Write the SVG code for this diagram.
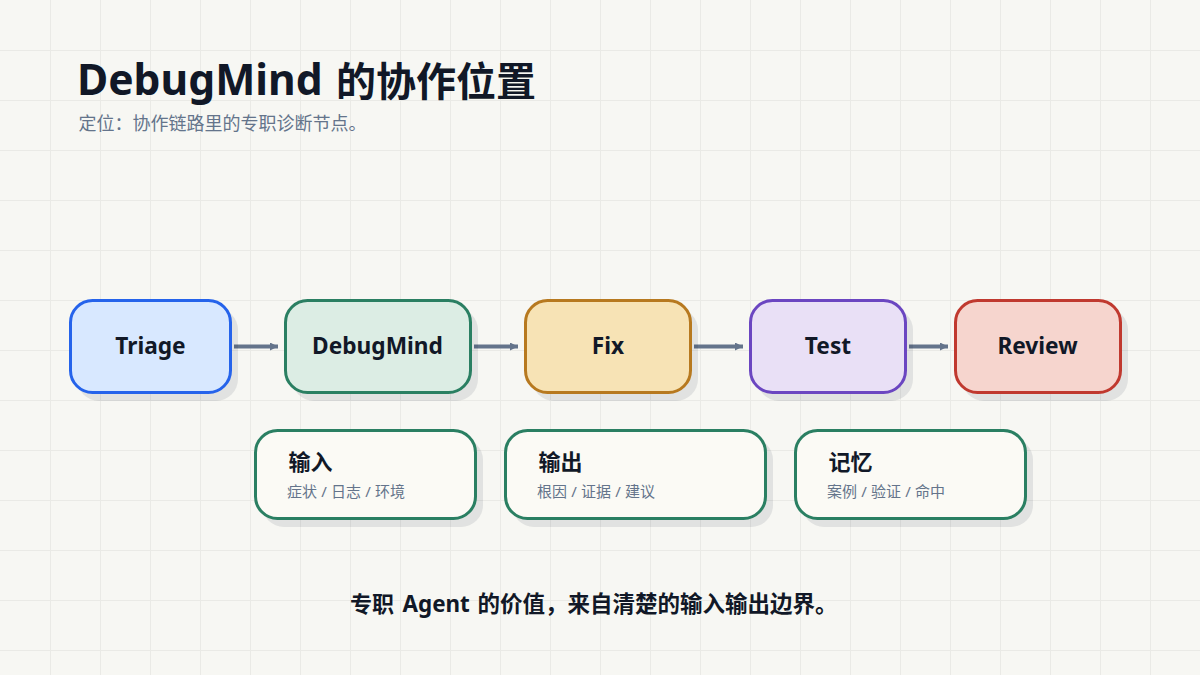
<svg xmlns="http://www.w3.org/2000/svg" width="1200" height="675" viewBox="0 0 1200 675">
<style>
text{font-family:"Noto Sans","Noto Sans CJK SC",sans-serif}
.n{stroke-width:3}
.s{fill:#0f172a;fill-opacity:.09}
.l{font-size:22.7px;font-weight:700;fill:#111827;text-anchor:middle}
.h{font-size:22px;font-weight:700;fill:#111827}
.d{font-size:15px;letter-spacing:.12px;fill:#64748b}
.c{fill:#fbfaf5;stroke:#2a7f62}
.a{stroke:#64748b;stroke-width:4;fill:none;marker-end:url(#ah)}
.g{stroke:#eaeae6;stroke-width:1}
</style>
<defs>
<marker id="ah" markerUnits="userSpaceOnUse" markerWidth="8" markerHeight="8" refX="8" refY="4" orient="auto"><path d="M0 0L8 4L0 8z" fill="#64748b"/></marker>
</defs>
<rect width="1200" height="675" fill="#f7f7f3"/>
<g id="grid-lines" class="g"><path d="M50.5 0V675M100.5 0V675M150.5 0V675M200.5 0V675M250.5 0V675M300.5 0V675M350.5 0V675M400.5 0V675M450.5 0V675M500.5 0V675M550.5 0V675M600.5 0V675M650.5 0V675M700.5 0V675M750.5 0V675M800.5 0V675M850.5 0V675M900.5 0V675M950.5 0V675M1000.5 0V675M1050.5 0V675M1100.5 0V675M1150.5 0V675M0 50.5H1200M0 100.5H1200M0 150.5H1200M0 200.5H1200M0 250.5H1200M0 300.5H1200M0 350.5H1200M0 400.5H1200M0 450.5H1200M0 500.5H1200M0 550.5H1200M0 600.5H1200M0 650.5H1200"/></g>
<g id="title"><text x="77" y="95" font-size="42.6" font-weight="700" fill="#111827">DebugMind<tspan x="336" y="96" font-size="40">的协作位置</tspan></text><text x="78.500" y="130" font-size="18" fill="#64748b">定位：协作链路里的专职诊断节点。</text></g>
<g id="connectors">
<line class="a" x1="234" y1="346.500" x2="278" y2="346.500"/>
<line class="a" x1="474" y1="346.500" x2="518" y2="346.500"/>
<line class="a" x1="694" y1="346.500" x2="743" y2="346.500"/>
<line class="a" x1="909" y1="346.500" x2="948" y2="346.500"/>
</g>
<g id="triage"><rect class="s" x="77" y="308" width="161" height="93" rx="22"/><rect class="n" x="70.500" y="300.500" width="160" height="92" rx="22" fill="#d8e8ff" stroke="#2563eb"/><text class="l" x="150.500" y="354">Triage</text></g>
<g id="debugmind"><rect class="s" x="292" y="308" width="186" height="93" rx="22"/><rect class="n" x="285.500" y="300.500" width="185" height="92" rx="22" fill="#dcede4" stroke="#2a7f62"/><text class="l" x="377.500" y="354">DebugMind</text></g>
<g id="fix"><rect class="s" x="532" y="308" width="166" height="93" rx="22"/><rect class="n" x="525.500" y="300.500" width="165" height="92" rx="22" fill="#f7e3b5" stroke="#b7791f"/><text class="l" x="608" y="354">Fix</text></g>
<g id="test"><rect class="s" x="757" y="308" width="156" height="93" rx="22"/><rect class="n" x="750.500" y="300.500" width="155" height="92" rx="22" fill="#e9e0f6" stroke="#6b46c1"/><text class="l" x="828" y="354">Test</text></g>
<g id="review"><rect class="s" x="962" y="308" width="166" height="93" rx="22"/><rect class="n" x="955.500" y="300.500" width="165" height="92" rx="22" fill="#f6d5ce" stroke="#c0392f"/><text class="l" x="1037.500" y="354">Review</text></g>
<g id="input"><rect class="s" x="262" y="438" width="221" height="89" rx="22"/><rect class="n c" x="255.500" y="430.500" width="220" height="88" rx="22"/><text class="h" x="288.500" y="470">输入</text><text class="d" x="287" y="497">症状 / 日志 / 环境</text></g>
<g id="output"><rect class="s" x="512" y="438" width="261" height="89" rx="22"/><rect class="n c" x="505.500" y="430.500" width="260" height="88" rx="22"/><text class="h" x="538.500" y="470">输出</text><text class="d" x="537" y="497">根因 / 证据 / 建议</text></g>
<g id="memory"><rect class="s" x="802" y="438" width="231" height="89" rx="22"/><rect class="n c" x="795.500" y="430.500" width="230" height="88" rx="22"/><text class="h" x="828.500" y="470">记忆</text><text class="d" x="827" y="497">案例 / 验证 / 命中</text></g>
<text x="350" y="612" font-size="22" font-weight="700" fill="#111827">专职<tspan x="402.500" font-size="22.4">Agent</tspan><tspan x="477.500" font-size="22.5">的价值，来自清楚的输入输出边界。</tspan></text>
</svg>
